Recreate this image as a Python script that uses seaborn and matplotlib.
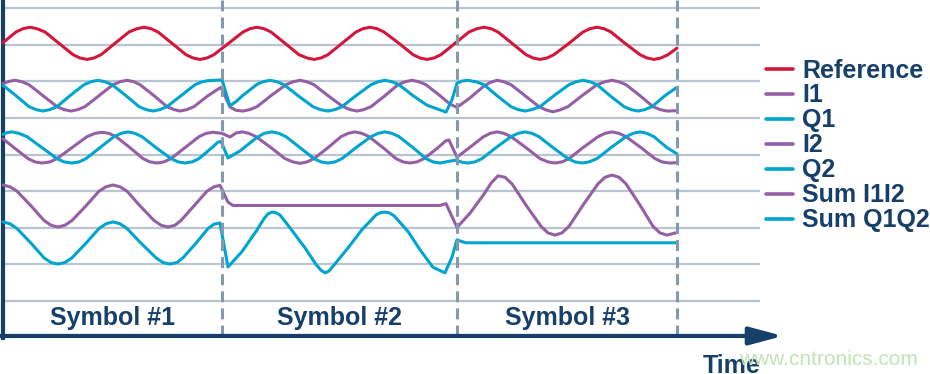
import matplotlib
matplotlib.use("Agg")
import matplotlib.pyplot as plt
import pandas as pd
import seaborn as sns
from matplotlib.lines import Line2D

# ---------------- data (time in arbitrary units, level in grid units) -------------
signal_names = ["Reference", "I1", "Q1", "I2", "Q2", "Sum I1I2", "Sum Q1Q2"]
symbol_labels = ["Symbol #1", "Symbol #2", "Symbol #3"]
symbol_bounds = [3, 222, 457, 677]
grid_levels = [0, 1, 2, 3, 4, 5, 6, 7, 8]

ref_points = [(3, 7.06), (16, 7.35), (23, 7.44), (30, 7.48), (37, 7.44), (45, 7.35), (59, 7.04),
              (73, 6.73), (80, 6.64), (87, 6.60), (94, 6.64), (101, 6.73), (115, 7.04),
              (129, 7.35), (137, 7.44), (144, 7.48), (151, 7.44), (158, 7.35), (172, 7.04),
              (186, 6.73), (193, 6.64), (200, 6.60), (207, 6.64), (214, 6.73), (229, 7.05),
              (243, 7.35), (250, 7.44), (257, 7.48), (264, 7.44), (271, 7.35), (285, 7.04),
              (299, 6.73), (307, 6.64), (314, 6.60), (321, 6.64), (328, 6.73), (342, 7.04),
              (356, 7.35), (363, 7.44), (370, 7.48), (377, 7.44), (384, 7.35), (399, 7.04),
              (413, 6.73), (420, 6.64), (427, 6.60), (434, 6.64), (441, 6.73), (455, 7.04),
              (469, 7.35), (477, 7.44), (484, 7.48), (491, 7.44), (498, 7.35), (512, 7.04),
              (526, 6.73), (533, 6.64), (540, 6.60), (547, 6.64), (554, 6.73), (569, 7.04),
              (583, 7.35), (590, 7.44), (597, 7.48), (604, 7.44), (611, 7.35), (625, 7.04),
              (640, 6.73), (647, 6.64), (654, 6.60), (661, 6.64), (668, 6.73), (677, 6.91)]

i1_points = [(3, 5.94), (9, 6.00), (15, 6.03), (22, 5.99), (29, 5.91), (43, 5.61), (57, 5.31),
             (64, 5.23), (71, 5.19), (78, 5.23), (85, 5.31), (99, 5.61), (113, 5.91),
             (120, 5.99), (127, 6.03), (134, 5.99), (140, 5.91), (154, 5.61), (167, 5.31),
             (174, 5.23), (180, 5.19), (187, 5.23), (194, 5.31), (208, 5.61), (221, 5.84),
             (230, 5.30), (236, 5.21), (243, 5.19), (250, 5.23), (257, 5.31), (271, 5.61),
             (286, 5.91), (293, 5.99), (300, 6.03), (307, 5.99), (314, 5.91), (328, 5.61),
             (343, 5.31), (350, 5.23), (357, 5.19), (364, 5.23), (371, 5.31), (385, 5.61),
             (398, 5.91), (405, 5.99), (412, 6.03), (419, 5.99), (426, 5.91), (440, 5.61),
             (450, 5.38), (457, 5.29), (470, 5.55), (483, 5.85), (490, 5.97), (497, 6.03),
             (504, 5.99), (511, 5.91), (525, 5.61), (539, 5.31), (546, 5.22), (553, 5.17),
             (560, 5.22), (568, 5.31), (582, 5.61), (597, 5.91), (605, 5.99), (612, 6.03),
             (619, 5.99), (626, 5.91), (640, 5.61), (653, 5.31), (660, 5.23), (667, 5.19),
             (677, 5.20)]

q1_points = [(3, 5.89), (16, 5.61), (29, 5.31), (36, 5.23), (43, 5.19), (50, 5.23), (57, 5.31),
             (70, 5.61), (84, 5.91), (91, 5.99), (98, 6.03), (105, 5.99), (112, 5.91),
             (126, 5.61), (139, 5.31), (146, 5.23), (153, 5.19), (160, 5.23), (167, 5.31),
             (181, 5.61), (195, 5.91), (201, 5.98), (208, 6.02), (222, 6.04), (230, 5.33),
             (236, 5.45), (243, 5.62), (257, 5.92), (263, 5.99), (270, 6.03), (277, 5.99),
             (284, 5.91), (298, 5.61), (313, 5.31), (320, 5.23), (328, 5.19), (335, 5.23),
             (342, 5.31), (356, 5.61), (371, 5.91), (378, 5.99), (385, 6.03), (392, 5.99),
             (399, 5.91), (413, 5.61), (427, 5.35), (440, 5.22), (446, 5.16), (452, 5.50),
             (457, 5.95), (462, 6.01), (468, 6.03), (476, 5.99), (484, 5.91), (497, 5.61),
             (511, 5.31), (518, 5.23), (525, 5.19), (532, 5.23), (540, 5.31), (554, 5.61),
             (569, 5.91), (576, 5.99), (583, 6.03), (590, 5.99), (597, 5.91), (610, 5.61),
             (624, 5.31), (631, 5.23), (638, 5.19), (645, 5.23), (652, 5.31), (665, 5.61),
             (677, 5.84)]

i2_points = [(3, 4.43), (14, 4.19), (28, 3.89), (35, 3.80), (42, 3.77), (50, 3.80), (57, 3.89),
             (72, 4.19), (87, 4.49), (95, 4.58), (102, 4.61), (109, 4.58), (116, 4.49),
             (130, 4.19), (143, 3.89), (150, 3.80), (157, 3.77), (164, 3.80), (171, 3.89),
             (185, 4.19), (199, 4.49), (206, 4.58), (213, 4.61), (222, 4.58), (230, 4.48),
             (236, 4.59), (242, 4.62), (249, 4.58), (256, 4.49), (271, 4.19), (285, 3.89),
             (293, 3.80), (300, 3.76), (307, 3.80), (314, 3.89), (328, 4.19), (341, 4.49),
             (348, 4.58), (355, 4.62), (362, 4.58), (369, 4.49), (383, 4.19), (396, 3.89),
             (403, 3.80), (410, 3.77), (417, 3.80), (424, 3.89), (438, 4.19), (446, 4.38),
             (449, 4.40), (452, 4.22), (457, 3.93), (470, 4.20), (483, 4.48), (490, 4.58),
             (497, 4.62), (504, 4.58), (511, 4.49), (526, 4.19), (540, 3.89), (548, 3.80),
             (555, 3.77), (562, 3.80), (569, 3.89), (583, 4.19), (598, 4.49), (605, 4.58),
             (612, 4.62), (619, 4.58), (626, 4.49), (641, 4.19), (655, 3.89), (662, 3.80),
             (669, 3.77), (677, 3.78)]

q2_points = [(3, 4.55), (7, 4.60), (12, 4.62), (19, 4.58), (27, 4.49), (42, 4.19), (57, 3.89),
             (64, 3.80), (72, 3.77), (79, 3.80), (86, 3.89), (100, 4.19), (114, 4.49),
             (121, 4.58), (128, 4.62), (135, 4.58), (142, 4.49), (156, 4.19), (171, 3.89),
             (178, 3.80), (185, 3.77), (192, 3.80), (199, 3.89), (212, 4.19), (218, 4.34),
             (221, 4.36), (228, 3.91), (240, 4.10), (256, 4.45), (264, 4.58), (272, 4.62),
             (279, 4.58), (286, 4.49), (300, 4.19), (314, 3.89), (321, 3.80), (328, 3.77),
             (335, 3.80), (342, 3.89), (356, 4.19), (371, 4.49), (378, 4.58), (385, 4.62),
             (392, 4.58), (399, 4.49), (413, 4.19), (426, 3.89), (433, 3.80), (440, 3.77),
             (450, 3.82), (456, 3.85), (462, 3.79), (468, 3.77), (475, 3.80), (482, 3.89),
             (496, 4.19), (511, 4.49), (518, 4.58), (525, 4.62), (532, 4.58), (539, 4.49),
             (553, 4.19), (568, 3.89), (575, 3.80), (582, 3.77), (589, 3.80), (597, 3.89),
             (611, 4.19), (626, 4.49), (633, 4.58), (640, 4.62), (647, 4.58), (654, 4.49),
             (667, 4.19), (677, 4.02)]

sum_i_points = [(3, 3.17), (10, 3.12), (17, 3.00), (31, 2.60), (44, 2.20), (51, 2.07),
                (58, 2.02), (65, 2.07), (72, 2.20), (86, 2.60), (99, 3.00), (106, 3.12),
                (113, 3.17), (120, 3.12), (127, 3.00), (140, 2.60), (154, 2.20), (161, 2.07),
                (168, 2.02), (175, 2.07), (181, 2.20), (194, 2.60), (207, 3.00), (214, 3.12),
                (220, 3.16), (224, 2.93), (228, 2.70), (233, 2.61), (440, 2.61), (446, 2.66),
                (457, 2.01), (470, 2.40), (484, 2.92), (491, 3.22), (498, 3.42), (505, 3.38),
                (512, 3.20), (526, 2.62), (541, 2.04), (548, 1.86), (555, 1.80), (562, 1.86),
                (569, 2.04), (583, 2.62), (598, 3.20), (605, 3.38), (612, 3.44), (619, 3.38),
                (626, 3.20), (640, 2.62), (653, 2.04), (660, 1.86), (667, 1.80), (677, 1.87)]

sum_q_points = [(3, 2.16), (10, 2.11), (17, 1.98), (31, 1.58), (44, 1.18), (51, 1.05),
                (58, 1.01), (65, 1.05), (72, 1.18), (86, 1.58), (99, 1.98), (106, 2.11),
                (113, 2.16), (120, 2.11), (127, 1.98), (141, 1.58), (156, 1.18), (163, 1.05),
                (170, 1.01), (177, 1.05), (183, 1.18), (196, 1.58), (208, 1.98), (214, 2.10),
                (220, 2.13), (228, 0.93), (242, 1.35), (256, 1.90), (264, 2.25), (268, 2.38),
                (272, 2.43), (276, 2.41), (280, 2.35), (290, 2.00), (305, 1.45), (316, 1.00),
                (321, 0.84), (325, 0.77), (329, 0.82), (334, 0.98), (348, 1.45), (362, 1.95),
                (376, 2.35), (380, 2.41), (385, 2.43), (389, 2.41), (394, 2.33), (408, 1.90),
                (420, 1.40), (433, 0.92), (445, 0.77), (452, 1.20), (457, 1.67), (461, 1.63),
                (466, 1.59), (677, 1.59)]

series = {
    "Reference": ref_points,
    "I1": i1_points,
    "Q1": q1_points,
    "I2": i2_points,
    "Q2": q2_points,
    "Sum I1I2": sum_i_points,
    "Sum Q1Q2": sum_q_points,
}

frames = []
for name in signal_names:
    pts = series[name]
    frames.append(pd.DataFrame({"time": [p[0] for p in pts],
                                "level": [p[1] for p in pts],
                                "signal": name}))
df = pd.concat(frames, ignore_index=True)

# ---------------- style ------------------------------------------------------------
NAVY = "#163F6A"
RED = "#D2173C"
PURPLE = "#955FA6"
CYAN = "#00A5CF"
GRID = "#B9C6D2"
DASH = "#8499AE"
palette = {"Reference": RED, "I1": PURPLE, "Q1": CYAN, "I2": PURPLE, "Q2": CYAN,
           "Sum I1I2": PURPLE, "Sum Q1Q2": CYAN}

sns.set_theme(style="white")
plt.rcParams["font.family"] = ["Liberation Sans", "DejaVu Sans"]

fig = plt.figure(figsize=(9.3, 3.74), dpi=100)
ax = fig.add_axes([0, 0, 1, 1])
ax.set_xlim(0, 930)
ax.set_ylim(-1.995, 8.224)

axis_level = -0.956

ax.hlines(grid_levels, xmin=symbol_bounds[0], xmax=760, colors=GRID, lw=1.6, zorder=1)

sns.lineplot(data=df, x="time", y="level", hue="signal", hue_order=signal_names,
             palette=palette, estimator=None, sort=False, linewidth=2.2, legend=False,
             ax=ax, zorder=3, solid_joinstyle="round", solid_capstyle="round")

ax.vlines(symbol_bounds[1:], ymin=axis_level, ymax=8.224, colors=DASH, lw=2.2,
          linestyles=(0, (3.6, 2.0)), zorder=4)

# axes decoration
for s in ["top", "right", "bottom"]:
    ax.spines[s].set_visible(False)
ax.spines["left"].set_position(("data", 2.5))
ax.spines["left"].set_bounds(axis_level - 0.05, 8.224)
ax.spines["left"].set_linewidth(3.0)
ax.spines["left"].set_color(NAVY)
ax.spines["left"].set_visible(True)
ax.set_xticks([])
ax.set_yticks([])
ax.set_xlabel("")
ax.set_ylabel("")

ax.annotate("", xy=(783, axis_level), xytext=(0.5, axis_level),
            arrowprops=dict(arrowstyle="-|>,head_length=1.35,head_width=0.36",
                            lw=3.0, color=NAVY, mutation_scale=15,
                            shrinkA=0, shrinkB=0), zorder=5)

for i, lab in enumerate(symbol_labels):
    cx = (symbol_bounds[i] + symbol_bounds[i + 1]) / 2
    ax.text(cx, -0.656, lab, ha="center", va="baseline", fontsize=18,
            fontweight="bold", color=NAVY)

ax.text(732, -1.955, "Time", ha="center", va="baseline", fontsize=18,
        fontweight="bold", color=NAVY, zorder=6)
ax.text(828, -1.749, "www.cntronics.com", ha="center", va="baseline", fontsize=15,
        color="#C2E2B4", zorder=7)

handles = [Line2D([], [], color=palette[n], lw=2.6) for n in signal_names]
leg = ax.legend(handles, signal_names, loc="center left",
                bbox_to_anchor=(766 / 930, 1 - 145.5 / 374), bbox_transform=fig.transFigure,
                frameon=False, borderpad=0, borderaxespad=0, handlelength=1.08,
                handletextpad=0.36, labelspacing=0.04,
                prop={"size": 18, "weight": "bold"}, labelcolor=NAVY)

fig.savefig("out.png", dpi=100)
